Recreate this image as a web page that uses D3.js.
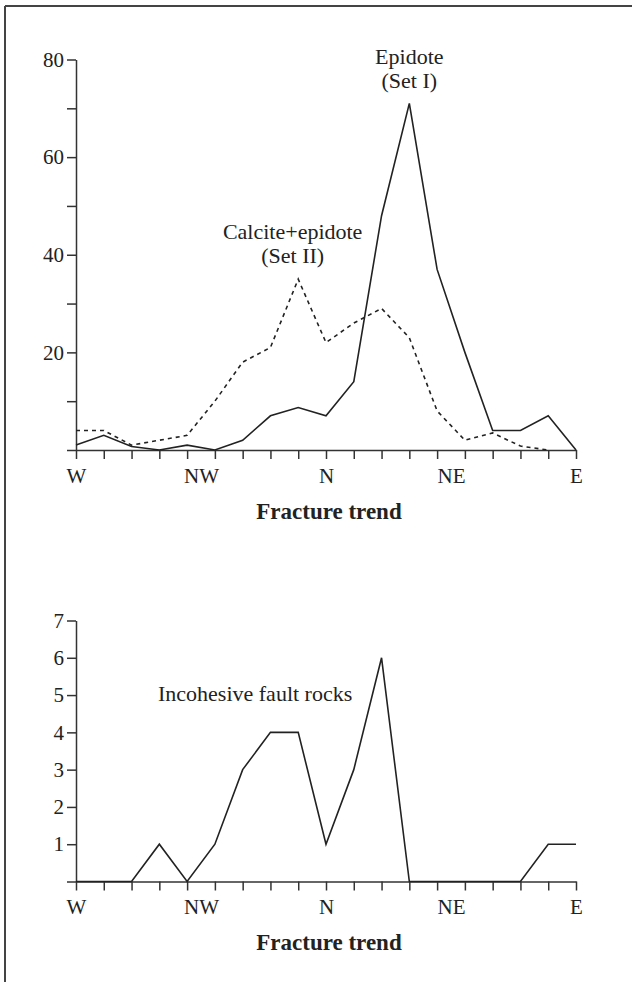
<!DOCTYPE html>
<html>
<head>
<meta charset="utf-8">
<script src="https://cdn.jsdelivr.net/npm/d3@7"></script>
<style>
  body { margin: 0; background: #fff; }
  svg { display: block; font-family: "Liberation Serif", "Times New Roman", serif; }
</style>
</head>
<body>
<svg id="chart" width="632" height="982"></svg>
<script>
// Data: counts per 10° bin of fracture trend, from W (0) to E (18)
const binIndex = d3.range(0, 19);
const trendLabels = [
  { pos: 0, label: "W" },
  { pos: 4.5, label: "NW" },
  { pos: 9, label: "N" },
  { pos: 13.5, label: "NE" },
  { pos: 18, label: "E" }
];

const epidoteSetI = [1, 3, 0.7, 0, 1, 0, 2, 7, 8.7, 7, 14, 48, 71, 37, 20, 4, 4, 7, 0];
const calciteSetII = [4, 4, 1, 2, 3, 10, 18, 21, 35, 22, 26, 29, 23, 8, 2, 3.5, 0.8, 0];
const incohesive = [0, 0, 0, 1, 0, 1, 3, 4, 4, 1, 3, 6, 0, 0, 0, 0, 0, 1, 1];

const topTicks = d3.range(0, 81, 10);
const topLabelled = [20, 40, 60, 80];
const bottomTicks = d3.range(0, 8);

const svg = d3.select("#chart");
const ink = "#222";
const serif = '"Liberation Serif", "Times New Roman", serif';

// Frame (top and left edge)
svg.append("line").attr("x1", 5).attr("y1", 6).attr("x2", 632).attr("y2", 6)
  .attr("stroke", "#444").attr("stroke-width", 2);
svg.append("line").attr("x1", 5).attr("y1", 6).attr("x2", 5).attr("y2", 982)
  .attr("stroke", "#444").attr("stroke-width", 2);

const x = d3.scaleLinear().domain([0, 18]).range([76, 576]);

function drawAxes(y, yTicks, yFormat, labelBaseline) {
  const g = svg.append("g");

  // y axis
  g.append("g")
    .attr("transform", `translate(${x(0)},0)`)
    .call(d3.axisLeft(y).tickValues(yTicks).tickFormat(yFormat).tickSizeInner(9).tickSizeOuter(0).tickPadding(3))
    .attr("font-family", serif)
    .call(a => a.selectAll("text").style("font-size", "21px").attr("fill", ink))
    .call(a => a.selectAll("line,path").attr("stroke", "#333").attr("stroke-width", 1.5));

  // x axis ticks
  g.append("g")
    .attr("transform", `translate(0,${y(0)})`)
    .call(d3.axisBottom(x).tickValues(binIndex).tickFormat("").tickSizeInner(9).tickSizeOuter(0))
    .call(a => a.selectAll("line,path").attr("stroke", "#333").attr("stroke-width", 1.5));

  // x axis labels
  g.append("g")
    .attr("transform", `translate(0,${y(0)})`)
    .call(d3.axisBottom(x).tickValues(trendLabels.map(d => d.pos))
      .tickFormat((d, i) => trendLabels[i].label).tickSize(0).tickPadding(18))
    .attr("font-family", serif)
    .call(a => a.select(".domain").remove())
    .call(a => a.selectAll("text").style("font-size", "21px").attr("fill", ink));

  g.append("text")
    .attr("x", x(9) + 3)
    .attr("y", labelBaseline)
    .attr("text-anchor", "middle")
    .style("font-size", "23px")
    .style("font-weight", "bold")
    .attr("fill", ink)
    .text("Fracture trend");
}

function drawLine(y, values, dashed) {
  const line = d3.line().x((d, i) => x(i)).y(d => y(d));
  svg.append("path")
    .datum(values)
    .attr("d", line)
    .attr("fill", "none")
    .attr("stroke", ink)
    .attr("stroke-width", 1.6)
    .attr("stroke-linejoin", "miter")
    .attr("stroke-dasharray", dashed ? "4,4" : null);
}

// Top chart
const yTop = d3.scaleLinear().domain([0, 80]).range([450, 59.5]);
drawAxes(yTop, topTicks, d => topLabelled.includes(d) ? d : "", 519);
drawLine(yTop, calciteSetII, true);
drawLine(yTop, epidoteSetI, false);

const topNotes = [
  { lines: ["Epidote", "(Set I)"], pos: 12, y: 64 },
  { lines: ["Calcite+epidote", "(Set II)"], pos: 7.8, y: 239 }
];
topNotes.forEach(n => {
  n.lines.forEach((t, i) => {
    svg.append("text")
      .attr("x", x(n.pos))
      .attr("y", n.y + i * 24)
      .attr("text-anchor", "middle")
      .style("font-size", "22px")
      .attr("fill", ink)
      .text(t);
  });
});

// Bottom chart
const yBottom = d3.scaleLinear().domain([0, 7]).range([881.5, 620.5]);
drawAxes(yBottom, bottomTicks, d => d === 0 ? "" : d, 950);
drawLine(yBottom, incohesive, false);

svg.append("text")
  .attr("x", 158)
  .attr("y", 701)
  .style("font-size", "22px")
  .attr("fill", ink)
  .text("Incohesive fault rocks");
</script>
</body>
</html>
